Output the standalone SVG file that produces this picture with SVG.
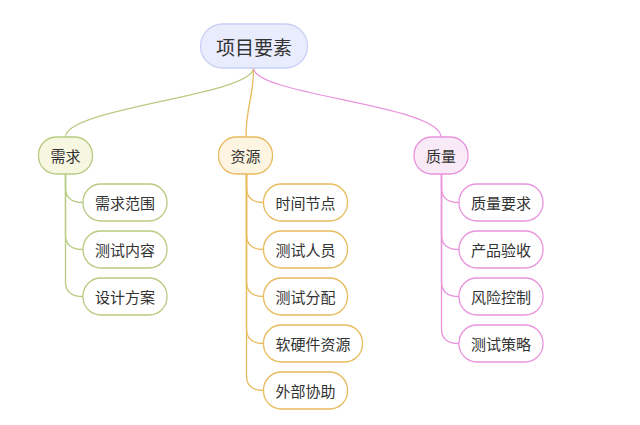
<svg xmlns="http://www.w3.org/2000/svg" width="640" height="425" viewBox="0 0 640 425">
<style>
text{font-family:"Noto Sans CJK SC","Noto Sans",sans-serif;fill:#333;text-anchor:middle;dominant-baseline:central;font-size:15px}
.root rect{fill:#e9ecfd;stroke:#c8d0f5;stroke-width:1.3}
.root text{font-size:19px}
.g rect{stroke:#b8cb82;stroke-width:1.3}
.o rect{stroke:#e8bb5e;stroke-width:1.3}
.p rect{stroke:#e994dd;stroke-width:1.3}
.g.l1 rect{fill:#f7f7e1}
.o.l1 rect{fill:#fdf5e2}
.p.l1 rect{fill:#f9eaf7}
.l2 rect{fill:#fff}
#connectors path{fill:none;stroke-width:1.3}
.cg{stroke:#b8cb82}
.co{stroke:#e8bb5e}
.cp{stroke:#e994dd}
</style>
<rect width="640" height="425" fill="#fff"/>
<g id="connectors">
<path class="cg" d="M253.5,68 C253.5,95 65.5,108 65.5,137"/>
<path class="co" d="M253.5,68 C253.5,100 246,105 246,137"/>
<path class="cp" d="M253.5,68 C253.5,95 441,105 441,137"/>
<path class="cg" d="M65.5,174 V188 Q65.5,202.5 83,202.5"/>
<path class="cg" d="M65.5,174 V235 Q65.5,249.5 83,249.5"/>
<path class="cg" d="M65.5,174 V282 Q65.5,296.5 83,296.5"/>
<path class="co" d="M246.5,174 V188 Q246.5,202.5 263.5,202.5"/>
<path class="co" d="M246.5,174 V235 Q246.5,249.5 263.5,249.5"/>
<path class="co" d="M246.5,174 V282 Q246.5,296.5 263.5,296.5"/>
<path class="co" d="M246.5,174 V329 Q246.5,343.5 263.5,343.5"/>
<path class="co" d="M246.5,174 V376 Q246.5,390.5 263.5,390.5"/>
<path class="cp" d="M441.5,174 V188 Q441.5,202.5 459,202.5"/>
<path class="cp" d="M441.5,174 V235 Q441.5,249.5 459,249.5"/>
<path class="cp" d="M441.5,174 V282 Q441.5,296.5 459,296.5"/>
<path class="cp" d="M441.5,174 V329 Q441.5,343.5 459,343.5"/>
</g>
<g id="root" class="root"><rect x="200.5" y="24" width="107" height="44" rx="22"/><text x="254" y="46">项目要素</text></g>
<g id="n-xuqiu" class="g l1"><rect x="38.5" y="137" width="54" height="37" rx="18"/><text x="65.5" y="155.5">需求</text></g>
<g id="n-ziyuan" class="o l1"><rect x="218.5" y="137" width="54" height="37" rx="18"/><text x="245.5" y="155.5">资源</text></g>
<g id="n-zhiliang" class="p l1"><rect x="414" y="137" width="54" height="37" rx="18"/><text x="441" y="155.5">质量</text></g>
<g id="n-xqfw" class="g l2"><rect x="83" y="184" width="84" height="37" rx="18"/><text x="125" y="202.5">需求范围</text></g>
<g id="n-csnr" class="g l2"><rect x="83" y="231" width="84" height="37" rx="18"/><text x="125" y="249.5">测试内容</text></g>
<g id="n-sjfa" class="g l2"><rect x="83" y="278" width="84" height="37" rx="18"/><text x="125" y="296.5">设计方案</text></g>
<g id="n-sjjd" class="o l2"><rect x="263.5" y="184" width="84" height="37" rx="18"/><text x="305.5" y="202.5">时间节点</text></g>
<g id="n-csry" class="o l2"><rect x="263.5" y="231" width="84" height="37" rx="18"/><text x="305.5" y="249.5">测试人员</text></g>
<g id="n-csfp" class="o l2"><rect x="263.5" y="278" width="84" height="37" rx="18"/><text x="305.5" y="296.5">测试分配</text></g>
<g id="n-rjzy" class="o l2"><rect x="263.5" y="325" width="99" height="37" rx="18"/><text x="313" y="343.5">软硬件资源</text></g>
<g id="n-wbxz" class="o l2"><rect x="263.5" y="372" width="84" height="37" rx="18"/><text x="305.5" y="390.5">外部协助</text></g>
<g id="n-zlyq" class="p l2"><rect x="459" y="184" width="84" height="37" rx="18"/><text x="501" y="202.5">质量要求</text></g>
<g id="n-cpys" class="p l2"><rect x="459" y="231" width="84" height="37" rx="18"/><text x="501" y="249.5">产品验收</text></g>
<g id="n-fxkz" class="p l2"><rect x="459" y="278" width="84" height="37" rx="18"/><text x="501" y="296.5">风险控制</text></g>
<g id="n-cscl" class="p l2"><rect x="459" y="325" width="84" height="37" rx="18"/><text x="501" y="343.5">测试策略</text></g>
</svg>
